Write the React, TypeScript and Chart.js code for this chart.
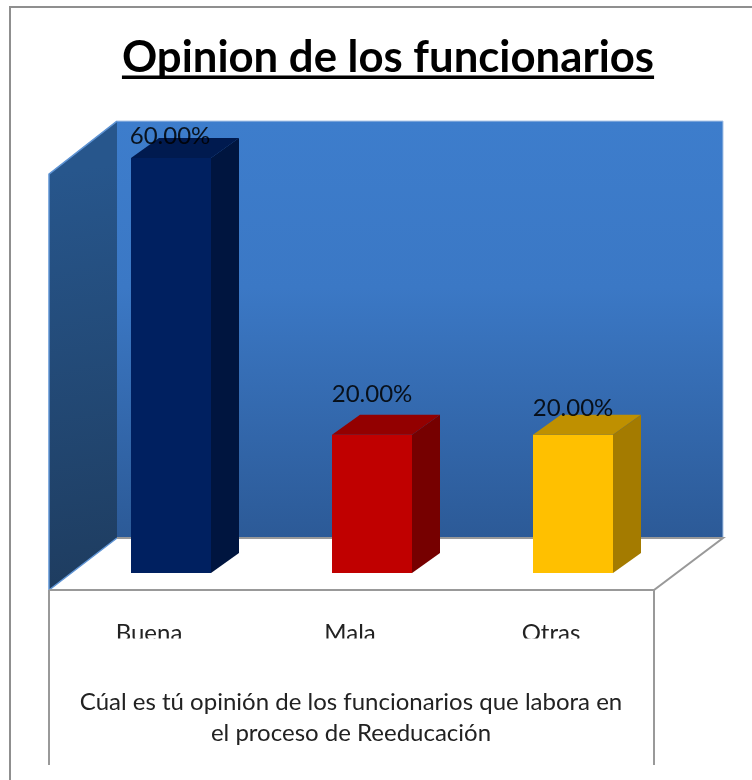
import React, { useEffect, useRef } from "react";
import { Chart, registerables } from "chart.js";

Chart.register(...registerables);

const categories = ["Buena", "Mala", "Otras"];
const values = [60, 20, 20];
const frontColors = ["#002060", "#c00000", "#ffc000"];
const sideColors = ["#00153f", "#760000", "#a47b00"];
const topColors = ["#001a4f", "#930000", "#bf9000"];
const labelLift = [22, 40, 26];
const chartTitle = "Opinion de los funcionarios";
const axisTitle = [
  "Cúal es tú opinión de los funcionarios que labora en",
  "el proceso de Reeducación",
];

const FONT = "Lato, Carlito, 'Open Sans', sans-serif";
const TITLE_SIZE = 43.7;
const DEPTH_X = 28;
const DEPTH_Y = 20;

function poly(ctx: CanvasRenderingContext2D, pts: number[][], fill?: any) {
  ctx.beginPath();
  pts.forEach(([x, y], i) => (i ? ctx.lineTo(x, y) : ctx.moveTo(x, y)));
  ctx.closePath();
  if (fill) {
    ctx.fillStyle = fill;
    ctx.fill();
  }
}

function line(ctx: CanvasRenderingContext2D, pts: number[][]) {
  ctx.beginPath();
  pts.forEach(([x, y], i) => (i ? ctx.lineTo(x, y) : ctx.moveTo(x, y)));
  ctx.stroke();
}

const scene3d = {
  id: "scene3d",
  afterLayout(chart: any) {
    // centre the headings on the drawing's own axes, not on the plot box
    chart.titleBlock.left = 24;
    chart.titleBlock.width = 728;
    chart.titleBlock.right = 752;
    chart.scales.x.left -= 21;
    chart.scales.x.right -= 21;
  },
  beforeDraw(chart: any) {
    const { ctx, chartArea: a, width, height } = chart;
    ctx.save();
    ctx.fillStyle = "#ffffff";
    ctx.fillRect(0, 0, width, height);

    // outer frame
    ctx.strokeStyle = "#8f8f8f";
    ctx.lineWidth = 2;
    line(ctx, [[10, height], [10, 7], [width, 7]]);

    const frontL = a.left - 21.5;
    const frontR = a.right - 19.5;
    const frontY = a.bottom + 17;
    const backL = a.left + 46.5;
    const backR = a.right + 49.5;
    const backY = a.bottom - 35;
    const wallTop = a.top - 37;
    const sideTop = wallTop + 53;

    // back wall
    const g = ctx.createLinearGradient(0, wallTop, 0, backY);
    g.addColorStop(0, "#3d7dcc");
    g.addColorStop(0.4, "#3b78c5");
    g.addColorStop(1, "#2c5a97");
    poly(ctx, [[backL, wallTop], [backR, wallTop], [backR, backY], [backL, backY]], g);
    ctx.strokeStyle = "#a9c4e6";
    ctx.lineWidth = 1;
    line(ctx, [[backL, wallTop], [backR, wallTop], [backR, backY]]);

    // side wall
    const s = ctx.createLinearGradient(frontL, sideTop, backL, frontY);
    s.addColorStop(0, "#27568c");
    s.addColorStop(1, "#1e3c5f");
    poly(ctx, [[frontL, sideTop], [backL, wallTop], [backL, backY], [frontL, frontY]], s);
    ctx.strokeStyle = "#5f94d4";
    ctx.lineWidth = 1.5;
    line(ctx, [[backL, backY], [frontL, frontY], [frontL, sideTop], [backL, wallTop]]);

    // floor and the box below it
    ctx.strokeStyle = "#999999";
    ctx.lineWidth = 2;
    line(ctx, [[backL, backY], [backR, backY], [frontR, frontY], [frontL, frontY]]);
    line(ctx, [[frontL, frontY], [frontL, height - 15]]);
    line(ctx, [[frontR, frontY], [frontR, height - 15]]);
    ctx.restore();
  },
  afterDatasetsDraw(chart: any) {
    const { ctx } = chart;
    const bars = chart.getDatasetMeta(0).data;
    ctx.save();
    bars.forEach((b: any, i: number) => {
      const l = b.x - b.width / 2;
      const r = b.x + b.width / 2;
      poly(ctx, [[l, b.y], [l + DEPTH_X, b.y - DEPTH_Y], [r + DEPTH_X, b.y - DEPTH_Y], [r, b.y]], topColors[i]);
      poly(ctx, [[r, b.y], [r + DEPTH_X, b.y - DEPTH_Y], [r + DEPTH_X, b.base - DEPTH_Y], [r, b.base]], sideColors[i]);
    });
    ctx.restore();
  },
  afterDraw(chart: any) {
    const { ctx } = chart;
    const bars = chart.getDatasetMeta(0).data;
    ctx.save();
    // title underline
    ctx.font = `bold ${TITLE_SIZE}px ${FONT}`;
    const tw = ctx.measureText(chartTitle).width;
    const cx = chart.titleBlock.left + chart.titleBlock.width / 2;
    ctx.fillStyle = "#000000";
    ctx.fillRect(cx - tw / 2, 75.5, tw, 3.5);

    // tick labels are cut off at their baseline in the source image
    ctx.fillStyle = "#ffffff";
    ctx.fillRect(60, 638.5, 580, 8);

    // value labels
    ctx.font = `24px ${FONT}`;
    ctx.fillStyle = "rgba(0,0,0,0.85)";
    ctx.textAlign = "center";
    ctx.textBaseline = "middle";
    bars.forEach((b: any, i: number) => {
      ctx.fillText(`${values[i].toFixed(2)}%`, b.x - (i === 0 ? 1 : 0), b.y - labelLift[i]);
    });
    ctx.restore();
  },
};

export default function App() {
  const ref = useRef<HTMLCanvasElement>(null);
  useEffect(() => {
    const chart = new Chart(ref.current as HTMLCanvasElement, {
      type: "bar",
      data: {
        labels: categories,
        datasets: [
          {
            data: values,
            backgroundColor: frontColors,
            borderWidth: 0,
            barPercentage: 1,
            categoryPercentage: 80 / 201,
          },
        ],
      },
      plugins: [scene3d],
      options: {
        responsive: false,
        animation: false,
        layout: { padding: { left: 70.5, right: 78.5, top: 0, bottom: 0 } },
        plugins: {
          legend: { display: false },
          tooltip: { enabled: false },
          title: {
            display: true,
            text: chartTitle,
            color: "#000000",
            font: { family: FONT, size: TITLE_SIZE, weight: "bold", lineHeight: 1.2 },
            padding: { top: 32, bottom: 73.6 },
          },
        },
        scales: {
          x: {
            grid: { display: false },
            border: { display: false },
            afterFit: (s: any) => {
              s.height = 207;
            },
            ticks: {
              color: "#222222",
              font: { family: FONT, size: 24 },
              padding: 38,
              labelOffset: -22,
              maxRotation: 0,
            },
            title: {
              display: true,
              text: axisTitle,
              color: "#222222",
              font: { family: FONT, size: 24, lineHeight: 1.3 },
              padding: { top: 10, bottom: 31 },
            },
          },
          y: { display: false, min: 0, max: 60 },
        },
      },
    } as any);
    return () => chart.destroy();
  }, []);
  return (
    <canvas
      ref={ref}
      width={752}
      height={780}
      style={{ position: "fixed", left: 0, top: 0, width: 752, height: 780 }}
    />
  );
}
